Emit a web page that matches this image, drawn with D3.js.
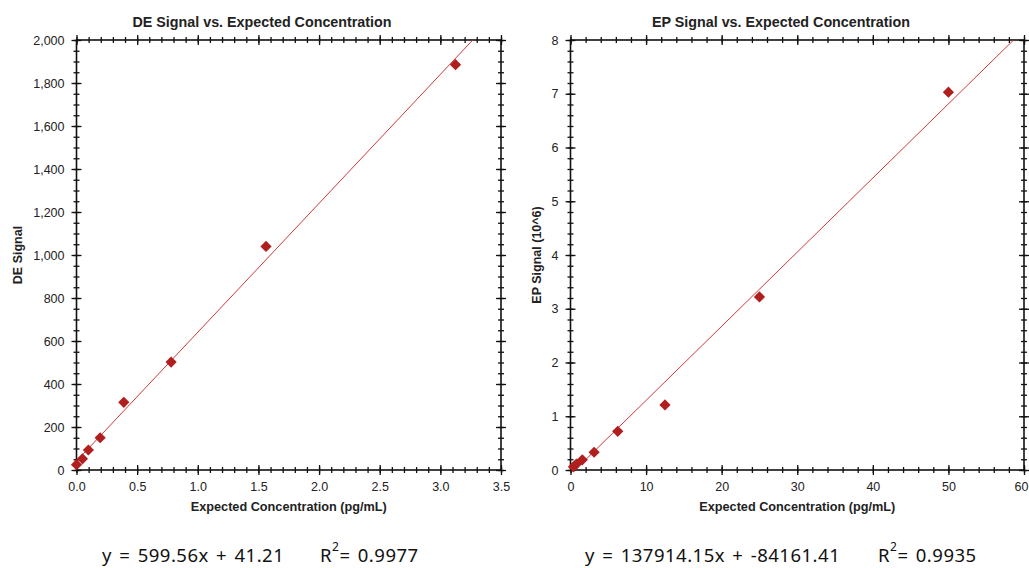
<!DOCTYPE html>
<html lang="en">
<head>
<meta charset="utf-8">
<title>Signal vs. Expected Concentration</title>
<script src="https://d3js.org/d3.v7.min.js"></script>
<style type="text/css">
  body { margin: 0; background: #fff; }
</style>
</head>
<body>
<script type="text/javascript">

// data
const deConc   = [0, 0.049, 0.098, 0.195, 0.39, 0.78, 1.5625, 3.125];
const deSignal = [25, 52, 93, 150, 315, 502, 1040, 1885];
const deFit    = {slope: 599.56, intercept: 41.21, r2: "0.9977"};

const epConc   = [0.39, 0.78, 1.5625, 3.125, 6.25, 12.5, 25, 50];
const epSignal = [0.06, 0.11, 0.19, 0.33, 0.72, 1.21, 3.22, 7.03];   // x10^6
const epFit    = {slope: 137914.15, intercept: -84161.41, r2: "0.9935"};

const svgW = 1029, svgH = 568;
const markColor = "#b01e1e";
const lineColor = "#d0393b";
const sans = "'Liberation Sans', Arial, sans-serif";
const eqFont = "'Noto Sans', 'Open Sans', sans-serif";

const svg = d3.select("body").append("svg")
  .attr("width", svgW)
  .attr("height", svgH);

function panel(cfg) {
  const x = d3.scaleLinear().domain(cfg.xDomain).range([cfg.left, cfg.right]);
  const y = d3.scaleLinear().domain(cfg.yDomain).range([cfg.bottom, cfg.top]);
  const g = svg.append("g");
  const clipId = "clip-" + cfg.id;

  g.append("clipPath").attr("id", clipId)
    .append("rect")
    .attr("x", cfg.left).attr("y", cfg.top)
    .attr("width", cfg.right - cfg.left).attr("height", cfg.bottom - cfg.top);

  //minor + major ticks, both sides of each border
  const xMinor = d3.range(cfg.xDomain[0], cfg.xDomain[1] + 1e-9, cfg.xMinor);
  const yMinor = d3.range(cfg.yDomain[0], cfg.yDomain[1] + 1e-9, cfg.yMinor);
  const xMajor = d3.range(cfg.xDomain[0], cfg.xDomain[1] + 1e-9, cfg.xStep);
  const yMajor = d3.range(cfg.yDomain[0], cfg.yDomain[1] + 1e-9, cfg.yStep);

  const sides = [
    [d3.axisBottom, x, xMinor, xMajor, cfg.bottom, "x"],
    [d3.axisTop,    x, xMinor, xMajor, cfg.bottom, "x"],
    [d3.axisBottom, x, xMinor, xMajor, cfg.top, "x"],
    [d3.axisTop,    x, xMinor, xMajor, cfg.top, "x"],
    [d3.axisLeft,   y, yMinor, yMajor, cfg.left, "y"],
    [d3.axisRight,  y, yMinor, yMajor, cfg.left, "y"],
    [d3.axisLeft,   y, yMinor, yMajor, cfg.right, "y"],
    [d3.axisRight,  y, yMinor, yMajor, cfg.right, "y"]
  ];
  sides.forEach(([ax, sc, minor, major, pos, dir]) => {
    [[minor, 3], [major, 5]].forEach(([vals, len]) => {
      const a = g.append("g")
        .attr("transform", dir === "x" ? `translate(0,${pos})` : `translate(${pos},0)`)
        .call(ax(sc).tickValues(vals).tickSize(len).tickFormat(""));
      a.select(".domain").remove();
      a.selectAll("line").attr("stroke", "#111").attr("stroke-width", 1.3);
    });
  });

  //tick labels
  const xl = g.append("g")
    .attr("transform", `translate(0,${cfg.bottom})`)
    .call(d3.axisBottom(x).tickValues(xMajor).tickSize(0).tickPadding(12).tickFormat(cfg.xFormat));
  const yl = g.append("g")
    .attr("transform", `translate(${cfg.left},0)`)
    .call(d3.axisLeft(y).tickValues(yMajor).tickSize(0).tickPadding(12).tickFormat(cfg.yFormat));
  [xl, yl].forEach(a => {
    a.select(".domain").remove();
    a.selectAll("text").attr("font-size", 12.5).attr("fill", "#222")
      .attr("font-family", sans);
  });
  // keep the last x label inside the page
  xl.selectAll(".tick").each(function(d) {
    const t = d3.select(this).select("text");
    const half = this.getBBox().width / 2;
    if (x(d) + half > svgW - 1) t.attr("dx", svgW - 1 - half - x(d));
  });

  //frame
  g.append("rect")
    .attr("x", cfg.left).attr("y", cfg.top)
    .attr("width", cfg.right - cfg.left).attr("height", cfg.bottom - cfg.top)
    .attr("fill", "none").attr("stroke", "#111").attr("stroke-width", 1.6);

  //trend line
  const fx = [cfg.xDomain[0], cfg.xDomain[1]];
  g.append("line")
    .attr("clip-path", `url(#${clipId})`)
    .attr("x1", x(fx[0])).attr("y1", y(cfg.fit(fx[0])))
    .attr("x2", x(fx[1])).attr("y2", y(cfg.fit(fx[1])))
    .attr("stroke", lineColor).attr("stroke-width", 1);

  //markers
  g.selectAll("path.pt")
    .data(cfg.xs.map((v, i) => [v, cfg.ys[i]]))
    .enter().append("path")
    .attr("class", "pt")
    .attr("d", d3.symbol().type(d3.symbolDiamond2).size(80))
    .attr("transform", d => `translate(${x(d[0])},${y(d[1])})`)
    .attr("fill", markColor);

  //title and axis labels
  g.append("text")
    .attr("x", cfg.titleX).attr("y", 27)
    .attr("text-anchor", "middle")
    .attr("font-family", sans)
    .attr("font-size", 14.3).attr("font-weight", "bold").attr("fill", "#222")
    .text(cfg.title);

  g.append("text")
    .attr("x", (cfg.left + cfg.right) / 2).attr("y", 511)
    .attr("text-anchor", "middle")
    .attr("font-family", sans)
    .attr("font-size", 12.7).attr("font-weight", "bold").attr("fill", "#222")
    .text("Expected Concentration (pg/mL)");

  g.append("text")
    .attr("transform", `translate(${cfg.yLabelX},${(cfg.top + cfg.bottom) / 2}) rotate(-90)`)
    .attr("text-anchor", "middle")
    .attr("font-family", sans)
    .attr("font-size", 12.5).attr("font-weight", "bold").attr("fill", "#222")
    .text(cfg.yLabel);

  //equation line
  g.append("text")
    .attr("x", cfg.eqX).attr("y", 562)
    .attr("font-family", eqFont)
    .attr("font-size", 18.5).attr("fill", "#111")
    .attr("letter-spacing", 0.5).attr("word-spacing", 2)
    .text(cfg.eqText);
  const r = g.append("text")
    .attr("x", cfg.r2X).attr("y", 562)
    .attr("font-family", eqFont)
    .attr("font-size", 18.5).attr("fill", "#111")
    .attr("letter-spacing", 0.5).attr("word-spacing", 2);
  r.append("tspan").text("R");
  r.append("tspan").attr("dy", -11).attr("font-size", 12).text("2");
  r.append("tspan").attr("dy", 11).text("= " + cfg.fitR2);
}

panel({
  id: "de",
  left: 76.5, right: 501, top: 40, bottom: 470,
  xDomain: [0, 3.5], xStep: 0.5, xMinor: 0.1,
  yDomain: [0, 2000], yStep: 200, yMinor: 50,
  xFormat: d3.format(".1f"), yFormat: d3.format(","),
  xs: deConc, ys: deSignal,
  fit: v => deFit.slope * v + deFit.intercept,
  fitR2: deFit.r2,
  title: "DE Signal vs. Expected Concentration", titleX: 262,
  yLabel: "DE Signal", yLabelX: 22,
  eqText: `y = ${deFit.slope.toFixed(2)}x + ${deFit.intercept.toFixed(2)}`, eqX: 102, r2X: 320
});

panel({
  id: "ep",
  left: 570.5, right: 1024, top: 40, bottom: 470,
  xDomain: [0, 60], xStep: 10, xMinor: 2,
  yDomain: [0, 8], yStep: 1, yMinor: 0.2,
  xFormat: d3.format("d"), yFormat: d3.format("d"),
  xs: epConc, ys: epSignal,
  fit: v => (epFit.slope * v + epFit.intercept) / 1e6,
  fitR2: epFit.r2,
  title: "EP Signal vs. Expected Concentration", titleX: 781,
  yLabel: "EP Signal (10^6)", yLabelX: 541,
  eqText: `y = ${epFit.slope.toFixed(2)}x + ${epFit.intercept.toFixed(2)}`, eqX: 585, r2X: 878
});

</script>
</body>
</html>
